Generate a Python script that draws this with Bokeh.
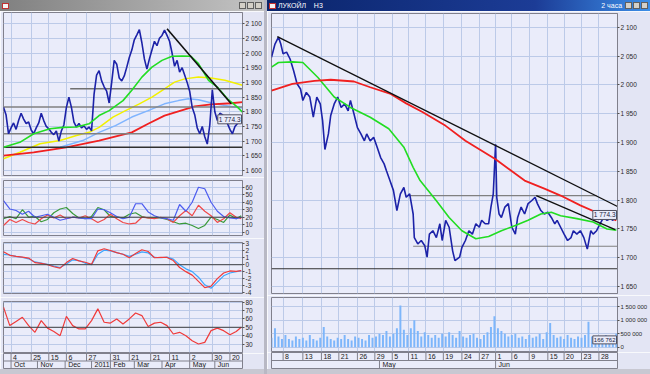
from bokeh.plotting import figure
from bokeh.models import FixedTicker, Label, Div, Range1d, Span
from bokeh.layouts import column, row
from bokeh.embed import file_html
from bokeh.resources import INLINE
from bokeh.core.properties import value

FONT = "Liberation Sans"
BG = "#eaecfa"
BORDER = "#e3e5f4"
GRID = "#bccae8"
FRAME = "#80808c"
PRICE_C = "#1c22a8"

# ---------------- LEFT WINDOW (daily) : x = bar index ----------------
L_DAY_TICKS = [6, 22, 36, 50, 66, 85, 100, 117, 132, 148, 166, 180]
L_DAY_LABELS = ["4", "25", "15", "6", "27", "31", "21", "21", "11", "2", "30", "20"]
L_MONTH_TICKS = [6, 27, 49, 70, 85, 104, 126, 148, 168]
L_MONTH_LABELS = ["Oct", "Nov", "Dec", "2011", "Feb", "Mar", "Apr", "May", "Jun"]

L_CLOSE_X = list(range(0, 190, 2))
L_CLOSE = [1815, 1790, 1725, 1745, 1762, 1740, 1770, 1795, 1775, 1760,
           1765, 1738, 1725, 1745, 1762, 1795, 1770, 1750, 1742, 1730,
           1722, 1735, 1700, 1735, 1755, 1815, 1850, 1815, 1765, 1748,
           1760, 1745, 1752, 1740, 1748, 1735, 1860, 1925, 1940, 1905,
           1885, 1870, 1830, 1900, 1975, 1962, 1915, 1905, 1922, 1952,
           1985, 2010, 2045, 2062, 2080, 2035, 1980, 1945, 1980, 2010,
           2040, 2025, 2050, 2060, 2078, 2060, 2040, 2000, 1955, 1975,
           1935, 1950, 1925, 1900, 1870, 1815, 1790, 1745, 1725, 1750,
           1715, 1690, 1755, 1875, 1800, 1770, 1795, 1790, 1780, 1760,
           1740, 1725, 1750, 1760, 1774]

L_MA_GREEN = [(0, 1679), (13, 1696), (24, 1725), (37, 1742), (47, 1747), (58, 1748), (68, 1759),
              (76, 1787), (84, 1804), (95, 1838), (102, 1873), (110, 1918), (118, 1952), (126, 1975),
              (134, 1989), (142, 1990), (149, 1989), (155, 1964), (163, 1907), (170, 1884),
              (178, 1844), (186, 1816), (190, 1799)]
L_MA_YELLOW = [(0, 1640), (13, 1662), (29, 1691), (45, 1702), (58, 1719), (68, 1730), (76, 1747),
               (87, 1782), (97, 1804), (108, 1827), (118, 1850), (128, 1878), (136, 1901),
               (144, 1912), (155, 1918), (165, 1915), (176, 1907), (190, 1890)]
L_MA_LBLUE = [(45, 1679), (63, 1702), (76, 1730), (89, 1753), (102, 1782), (115, 1804), (128, 1827),
              (139, 1838), (147, 1844), (155, 1841), (168, 1827), (181, 1818), (190, 1813)]
L_MA_RED = [(0, 1651), (24, 1662), (50, 1679), (76, 1702), (102, 1730), (115, 1759), (128, 1787),
            (141, 1804), (152, 1818), (165, 1825), (181, 1829), (190, 1833)]
L_LEVEL_Y = [1878, 1816, 1725, 1679]
L_LEVEL_X0 = [53, 0, 0, 0]
L_LEVEL_X1 = [190, 190, 190, 190]
L_LEVEL_C = ["#707070", "#808080", "#808080", "#303030"]
L_TREND_X = [130, 181]
L_TREND_Y = [2083, 1827]
L_PRICE_TICKS = [1600, 1650, 1700, 1750, 1800, 1850, 1900, 1950, 2000, 2050, 2100]

IND_X = list(range(0, 190, 5)) + [189]
ADX_BLUE = [42, 31, 29, 24, 28, 20, 22, 24, 20, 16, 18, 20, 19, 18, 18, 31, 30, 26, 21, 18,
            20, 38, 38, 27, 22, 19, 18, 16, 37, 28, 40, 60, 58, 40, 28, 21, 19, 18, 20]
ADX_RED = [9, 17, 13, 17, 13, 11, 18, 23, 19, 23, 18, 20, 19, 22, 18, 13, 17, 24, 18, 13,
           11, 12, 20, 19, 18, 20, 18, 13, 22, 29, 22, 36, 28, 22, 13, 18, 26, 20, 18]
ADX_GREEN = [18, 21, 18, 30, 20, 21, 14, 17, 26, 31, 33, 25, 19, 18, 21, 33, 30, 21, 20, 19,
             24, 26, 21, 19, 19, 19, 17, 14, 11, 12, 9, 5, 9, 20, 17, 13, 23, 18, 22]
ADX_TICKS = [0, 10, 20, 30, 40, 50, 60]
MACD_RED = [1.86, 1.35, 1.2, 1.1, 0.95, 0.3, 0.2, 0, -0.3, -0.5, 0.3, 0.9, 0.55, 0.35, 0.05,
            2.0, 2.3, 2.05, 1.75, 1.5, 1.0, 1.6, 2.15, 1.9, 1.0, 1.05, 1.05, 0.6, -0.4, -1.0,
            -1.5, -2.4, -3.3, -3.1, -2.0, -1.2, -0.9, -0.95, -0.85]
MACD_BLUE = [1.5, 1.4, 1.2, 1.05, 0.85, 0.4, 0.25, 0.05, -0.2, -0.4, 0.1, 0.7, 0.6, 0.2, 0.0,
             1.5, 2.1, 2.0, 1.75, 1.5, 1.2, 1.5, 1.85, 1.7, 1.05, 1.0, 1.1, 0.8, 0.0, -0.6,
             -1.0, -1.8, -2.9, -3.4, -2.5, -1.6, -1.2, -1.0, -0.9]
MACD_TICKS = [-4, -3, -2, -1, 0, 1, 2, 3]
RSI = [74, 52, 57, 62, 52, 44, 58, 49, 45, 40, 63, 52, 48, 48, 58, 72, 56, 55, 60, 54,
       60, 67, 64, 51, 55, 56, 52, 42, 44, 40, 34, 30, 32, 46, 49, 46, 41, 45, 50]
RSI_TICKS = [30, 40, 50, 60, 70, 80]

# ---------------- RIGHT WINDOW (2-hour bars) ----------------
R_DAY_TICKS = [10, 27, 43, 58, 74, 89, 104, 118, 133, 148, 164, 179, 193, 207, 222, 238, 252, 267, 282]
R_DAY_LABELS = ["8", "13", "18", "21", "26", "29", "5", "11", "16", "19", "24", "27",
                "1", "6", "9", "15", "20", "23", "28"]
R_MONTH_TICKS = [93, 193]
R_MONTH_LABELS = ["May", "Jun"]

R_CLOSE = [(0, 2048), (3, 2071), (6, 2083), (8, 2071), (10, 2054), (13, 2057), (16, 2045),
           (19, 2025), (22, 2002), (25, 1993), (27, 1973), (30, 1987), (33, 1979), (36, 1944),
           (39, 1979), (42, 1967), (44, 1938), (46, 1888), (49, 1915), (51, 1947), (54, 1967),
           (57, 1979), (60, 1961), (63, 1967), (66, 1955), (68, 1973), (71, 1950), (74, 1926),
           (77, 1915), (80, 1903), (82, 1915), (85, 1903), (88, 1909), (91, 1892), (94, 1874),
           (97, 1863), (99, 1851), (102, 1834), (105, 1817), (108, 1782), (111, 1811), (114, 1822),
           (116, 1805), (119, 1811), (122, 1776), (123, 1735), (126, 1724), (129, 1730), (132, 1721),
           (134, 1701), (136, 1741), (139, 1747), (142, 1735), (145, 1759), (147, 1730), (150, 1765),
           (153, 1753), (156, 1712), (158, 1695), (162, 1701), (164, 1718), (167, 1730), (170, 1747),
           (173, 1741), (176, 1759), (179, 1753), (181, 1765), (184, 1759), (187, 1759), (189, 1788),
           (191, 1811), (193, 1897), (194, 1805), (196, 1776), (198, 1770), (201, 1788), (204, 1794),
           (207, 1753), (210, 1741), (212, 1770), (215, 1788), (218, 1776), (221, 1794), (224, 1799),
           (227, 1805), (229, 1794), (232, 1782), (235, 1776), (238, 1779), (241, 1770), (244, 1759),
           (246, 1765), (249, 1753), (252, 1741), (255, 1730), (258, 1735), (260, 1747), (263, 1741),
           (266, 1747), (269, 1735), (272, 1715), (275, 1747), (277, 1741), (280, 1747), (283, 1759),
           (286, 1770), (289, 1765), (292, 1768), (294, 1765), (297, 1776)]
R_MA_RED = [(0, 1990), (18, 2002), (37, 2007), (51, 2009), (71, 2006), (85, 1996), (102, 1985),
            (116, 1968), (130, 1953), (150, 1929), (167, 1903), (193, 1871), (218, 1834),
            (235, 1820), (249, 1808), (266, 1791), (283, 1776), (297, 1765)]
R_MA_GREEN = [(0, 2031), (6, 2039), (18, 2040), (27, 2039), (40, 2013), (54, 1979), (68, 1961),
              (85, 1944), (101, 1924), (114, 1892), (122, 1857), (128, 1834), (142, 1799),
              (153, 1770), (164, 1747), (176, 1733), (187, 1737), (198, 1747), (210, 1756),
              (221, 1765), (232, 1776), (241, 1779), (249, 1773), (263, 1768), (277, 1762),
              (289, 1750), (297, 1748)]
R_TREND1_X = [5, 298]
R_TREND1_Y = [2084, 1789]
R_TREND2_X = [228, 296]
R_TREND2_Y = [1808, 1749]
R_LEVEL_Y = [1808, 1720, 1681]
R_LEVEL_X0 = [119, 122, 0]
R_LEVEL_X1 = [280, 298, 298]
R_LEVEL_C = ["#808080", "#808080", "#303030"]
R_PRICE_TICKS = [1650, 1700, 1750, 1800, 1850, 1900, 1950, 2000, 2050, 2100]

VOL_X = list(range(0, 298, 3))
VOL_K = [350, 700, 400, 300, 450, 300, 250, 400, 300, 350, 250, 450, 300, 250, 350, 750, 400, 300,
         250, 350, 300, 450, 300, 250, 400, 350, 300, 250, 450, 350, 400, 500, 450, 600, 400, 500,
         700, 1550, 650, 450, 700, 1000, 600, 400, 550, 450, 350, 450, 350, 500, 400, 550, 450, 350,
         600, 400, 350, 450, 500, 350, 300, 450, 550, 750, 1150, 700, 600, 500, 400, 450, 500, 350,
         400, 300, 450, 350, 400, 500, 300, 550, 900, 450, 350, 400, 300, 450, 350, 300, 400, 350,
         450, 950, 400, 300, 350, 250, 450, 300, 400, 500]
VOL_TICKS = [0, 500000, 1000000, 1500000]

LAST_PRICE = 1774.3
LAST_VOL = 166762


def unzip(pairs):
    return [a for a, _ in pairs], [b for _, b in pairs]


def fmt(v):
    return f"{v:,}".replace(",", " ")


def panel(w, h, xr, yr, yticks, ylabels, mbl, mbr, mbt, mbb, xticks, fsize="6.5px"):
    p = figure(width=w, height=h, x_range=xr, y_range=yr, output_backend="svg",
               toolbar_location=None, tools="", x_axis_location=None, y_axis_location="right",
               min_border_left=mbl, min_border_right=mbr, min_border_top=mbt, min_border_bottom=mbb,
               background_fill_color=BG, border_fill_color=BORDER, outline_line_color=FRAME)
    ax = p.yaxis[0]
    ax.ticker = FixedTicker(ticks=yticks)
    ax.major_label_overrides = {t: s for t, s in zip(yticks, ylabels)}
    ax.axis_line_color = FRAME
    ax.major_tick_line_color = "#505050"
    ax.major_tick_out = 2
    ax.major_tick_in = 0
    ax.minor_tick_line_color = None
    ax.major_label_standoff = 1
    ax.major_label_text_font = FONT
    ax.major_label_text_font_size = fsize
    ax.major_label_text_color = "#2a2a2a"
    p.xgrid.ticker = FixedTicker(ticks=xticks)
    p.grid.grid_line_color = GRID
    p.grid.grid_line_width = 1
    return p


def strip(w, h, xr, mbl, mbr, dticks, dlabels, mticks, mlabels):
    p = figure(width=w, height=h, x_range=xr, y_range=Range1d(0, 2), output_backend="svg",
               toolbar_location=None, tools="", x_axis_location=None, y_axis_location=None,
               min_border_left=mbl, min_border_right=mbr, min_border_top=0, min_border_bottom=1,
               background_fill_color=BG, border_fill_color=BORDER, outline_line_color=FRAME)
    p.grid.visible = False
    p.add_layout(Span(location=1, dimension="width", line_color=FRAME, line_width=1))
    p.segment(x0=dticks, x1=dticks, y0=1, y1=2, line_color=FRAME)
    p.segment(x0=mticks, x1=mticks, y0=0, y1=1, line_color=FRAME)
    p.text(x=dticks, y=1.5, text=dlabels, x_offset=2, text_font=value(FONT), text_font_size="7px",
           text_baseline="middle", text_align="left", text_color="#202020")
    p.text(x=mticks, y=0.5, text=mlabels, x_offset=3, text_font=value(FONT), text_font_size="7px",
           text_baseline="middle", text_align="left", text_color="#202020")
    return p


def value_box(p, x, y, text, fsize="6.5px"):
    p.add_layout(Label(x=x, y=y, text=text, x_offset=-1, text_align="right", text_baseline="middle",
                       text_font=FONT, text_font_size=fsize, text_color="#202040",
                       background_fill_color=BG, border_line_color="#505060", padding=1))


def bar_div(left_html, right_html, w, h, bg, color="#ffffff"):
    html = (f'<div style="position:absolute;top:0px;left:2px;display:flex;'
            f'justify-content:space-between;align-items:center;'
            f'width:{w - 4}px;height:{h}px;overflow:hidden;white-space:nowrap;margin:0;padding:0;'
            f"font-family:'{FONT}';font-size:7px;line-height:8px;color:{color}\">"
            f'<span>{left_html}</span><span>{right_html}</span></div>')
    return Div(text=html, width=w, height=h, margin=(0, 0, 0, 0),
               styles={"background": bg, "overflow": "hidden", "position": "relative"})


BTN = ('<span style="display:inline-block;width:7px;height:7px;margin-left:1px;'
       'background:#d4d0c8;border:1px solid #606060;box-sizing:border-box;vertical-align:middle"></span>')
ICON = ('<span style="display:inline-block;width:7px;height:6px;background:#f4f4f4;'
        'border:1px solid #c03030;box-sizing:border-box;vertical-align:middle"></span>')

# ---------------- build left window ----------------
LW, LBL, LBR = 264, 3, 20
lx = Range1d(0, 190)

lp = panel(LW, 166, lx, Range1d(1583, 2138), L_PRICE_TICKS, [fmt(t) for t in L_PRICE_TICKS],
           LBL, LBR, 1, 2, L_DAY_TICKS)
gx, gy = unzip(L_MA_GREEN)
yx, yy = unzip(L_MA_YELLOW)
bx, by = unzip(L_MA_LBLUE)
rx, ry = unzip(L_MA_RED)
lp.line(yx, yy, line_color="#f2f000", line_width=1.5)
lp.line(bx, by, line_color="#7fb4ff", line_width=1.5)
lp.line(rx, ry, line_color="#f02020", line_width=1.8)
lp.segment(x0=L_LEVEL_X0, x1=L_LEVEL_X1, y0=L_LEVEL_Y, y1=L_LEVEL_Y, line_color=L_LEVEL_C, line_width=1.5)
lp.line(L_CLOSE_X, L_CLOSE, line_color=PRICE_C, line_width=1.6)
lp.line(gx, gy, line_color="#22dd22", line_width=1.6)
lp.line(L_TREND_X, L_TREND_Y, line_color="#101010", line_width=1.6)
value_box(lp, 190, LAST_PRICE, "1 774.3")

adx = panel(LW, 61, lx, Range1d(-4.4, 69), ADX_TICKS, [str(t) for t in ADX_TICKS],
            LBL, LBR, 3, 3, L_DAY_TICKS)
adx.add_layout(Span(location=20, dimension="width", line_color="#404040", line_width=1))
adx.line(IND_X, ADX_GREEN, line_color="#3a9a3a", line_width=1.2)
adx.line(IND_X, ADX_RED, line_color="#f04848", line_width=1.2)
adx.line(IND_X, ADX_BLUE, line_color="#4c5cf0", line_width=1.2)

macd = panel(LW, 59, lx, Range1d(-4.15, 3.2), MACD_TICKS, [str(t) for t in MACD_TICKS],
             LBL, LBR, 4, 4, L_DAY_TICKS)
macd.add_layout(Span(location=0, dimension="width", line_color="#404040", line_width=1))
macd.line(IND_X, MACD_BLUE, line_color="#3ea6ff", line_width=1.2)
macd.line(IND_X, MACD_RED, line_color="#f03a3a", line_width=1.2)

rsi = panel(LW, 56, lx, Range1d(19.9, 80.8), RSI_TICKS, [str(t) for t in RSI_TICKS],
            LBL, LBR, 4, 1, L_DAY_TICKS)
rsi.add_layout(Span(location=50, dimension="width", line_color="#404040", line_width=1))
rsi.line(IND_X, RSI, line_color="#f03a3a", line_width=1.2)

lstrip = strip(LW, 16, lx, LBL, LBR, L_DAY_TICKS, L_DAY_LABELS, L_MONTH_TICKS, L_MONTH_LABELS)

ltitle = bar_div(ICON, BTN * 3, LW, 11, "linear-gradient(90deg,#808080,#c4c4c4)")
lbottom = bar_div("", "", LW, 5, "#c8c8d2")

left_col = column(ltitle, lp, adx, macd, rsi, lstrip, lbottom)

# ---------------- build right window ----------------
RW, RBL, RBR = 383, 4, 30
rxr = Range1d(0, 298)

rp = panel(RW, 284, rxr, Range1d(1638, 2124), R_PRICE_TICKS, [fmt(t) for t in R_PRICE_TICKS],
           RBL, RBR, 2, 2, R_DAY_TICKS)
cx, cy = unzip(R_CLOSE)
rgx, rgy = unzip(R_MA_GREEN)
rrx, rry = unzip(R_MA_RED)
rp.segment(x0=R_LEVEL_X0, x1=R_LEVEL_X1, y0=R_LEVEL_Y, y1=R_LEVEL_Y, line_color=R_LEVEL_C, line_width=1.2)
rp.line(cx, cy, line_color=PRICE_C, line_width=1.6)
rp.line(rgx, rgy, line_color="#22dd22", line_width=1.6)
rp.line(rrx, rry, line_color="#f02020", line_width=1.8)
rp.line(R_TREND1_X, R_TREND1_Y, line_color="#101010", line_width=1.3)
rp.line(R_TREND2_X, R_TREND2_Y, line_color="#101010", line_width=1.3)
value_box(rp, 298, LAST_PRICE, "1 774.3")

vol = panel(RW, 57, rxr, Range1d(-163000, 1850000), VOL_TICKS, [fmt(t) for t in VOL_TICKS],
            RBL, RBR, 2, 1, R_DAY_TICKS, fsize="6px")
vol.vbar(x=VOL_X, top=[v * 1000 for v in VOL_K], bottom=0, width=1.7,
         fill_color="#7db6fb", line_color=None)
value_box(vol, 298, 270000, fmt(LAST_VOL), fsize="6px")

rstrip = strip(RW, 17, rxr, RBL, RBR, R_DAY_TICKS, R_DAY_LABELS, R_MONTH_TICKS, R_MONTH_LABELS)

rtitle = bar_div(ICON + " ЛУКОЙЛ &nbsp;&nbsp; H3", "2 часа " + BTN * 3, RW, 11,
                 "linear-gradient(90deg,#0a246a,#1c3c96 70%,#3c8ee8)")
rbottom = bar_div("", "", RW, 5, "#c8c8d2")

right_col = column(rtitle, rp, vol, rstrip, rbottom)

gap = bar_div("", "", 3, 374, "#b8b8c4")

layout = row(left_col, gap, right_col)

open("out.html", "w").write(file_html(layout, INLINE))
